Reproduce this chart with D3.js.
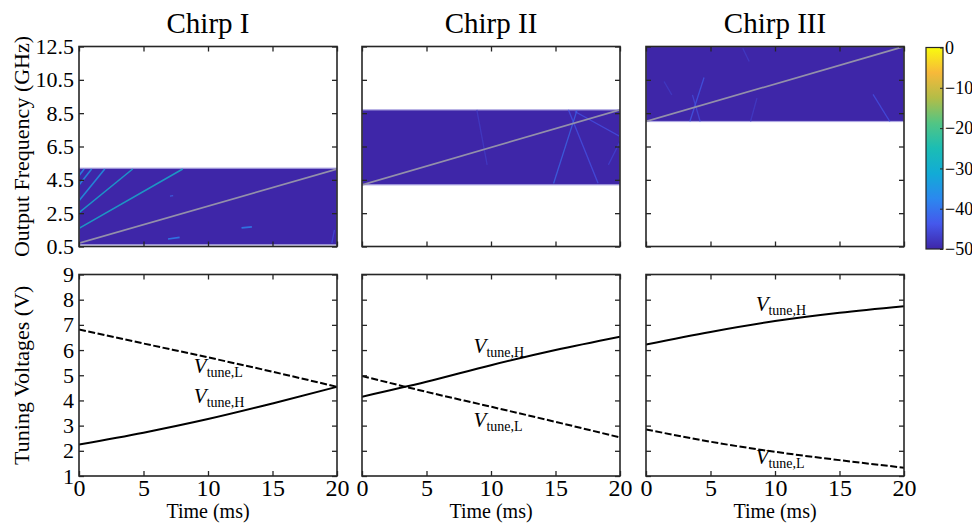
<!DOCTYPE html>
<html><head><meta charset="utf-8">
<script src="https://cdn.jsdelivr.net/npm/d3@7"></script>
<style>
body{margin:0;background:#fff}
svg{display:block}
text{font-family:"Liberation Serif","Times New Roman",serif;fill:#000}
</style>
</head><body>
<svg id="chart" width="972" height="523"></svg>
<script>
// ---------------- data ----------------
const chirpNames = ["Chirp I", "Chirp II", "Chirp III"];
const timeTicks = [0, 5, 10, 15, 20];
const freqTicks = [0.5, 2.5, 4.5, 6.5, 8.5, 10.5, 12.5];
const voltTicks = [1, 2, 3, 4, 5, 6, 7, 8, 9];
const cbarTicks = [0, -10, -20, -30, -40, -50];
// spectrogram coverage per chirp (GHz)
const bandLow = [0.6, 4.2, 8.0];
const bandHigh = [5.2, 8.7, 12.5];
// main chirp line start / end frequency (GHz)
const chirpStart = [0.7, 4.2, 8.0];
const chirpEnd = [5.15, 8.7, 12.5];
// harmonics and spurs: [chirp index, t0 (ms), f0 (GHz), t1, f1, level (dB)]
const spurs = [
  [0, 0, 1.59, 8.04, 5.15, -29],
  [0, 0, 2.53, 4.16, 5.15, -30],
  [0, 0, 3.25, 2.0, 5.15, -34],
  [0, 0, 4.19, 0.98, 5.15, -35],
  [0, 0, 4.75, 0.4, 5.15, -36],
  [0, 6.9, 0.95, 7.8, 1.05, -38],
  [0, 12.6, 1.62, 13.4, 1.68, -38],
  [0, 7.05, 3.52, 7.3, 3.55, -41],
  [0, 19.6, 0.7, 19.8, 1.5, -45],
  [1, 14.85, 4.28, 16.67, 8.68, -41],
  [1, 16.0, 8.7, 18.3, 4.3, -44],
  [1, 16.5, 8.6, 20, 7.1, -44],
  [1, 8.9, 8.7, 9.7, 5.4, -47],
  [1, 20, 6.8, 19.1, 5.4, -46],
  [2, 3.4, 8.0, 4.5, 10.64, -43],
  [2, 3.6, 9.6, 4.2, 8.0, -45],
  [2, 7.5, 12.4, 8.0, 11.6, -47],
  [2, 8.1, 8.0, 8.6, 9.4, -47],
  [2, 17.6, 9.63, 18.9, 8.0, -44],
  [2, 1.4, 10.4, 2.0, 9.6, -47]
];
// tuning voltages (V) sampled at timeSamples (ms)
const timeSamples = [0, 5, 10, 15, 20];
const vHigh = [
  [2.25, 2.72, 3.26, 3.88, 4.54],
  [4.15, 4.74, 5.40, 6.00, 6.53],
  [6.22, 6.72, 7.15, 7.48, 7.74]
];
const vLow = [
  [6.82, 6.26, 5.71, 5.14, 4.54],
  [4.97, 4.34, 3.75, 3.15, 2.53],
  [2.85, 2.36, 1.96, 1.63, 1.33]
];
// label anchor points in data units [t, V]
const labelH = [[8.9, 3.88], [8.65, 5.87], [8.5, 7.56]];
const labelL = [[8.9, 5.08], [8.65, 2.95], [8.5, 1.48]];
// parula colour stops
const parulaStops = ["#3e26a8", "#4558ec", "#2b88ef", "#12abd6", "#1bbdb4", "#52c584", "#b3bd47", "#f7b93a", "#f9fb0e"];

// ---------------- layout ----------------
const svg = d3.select("#chart");
const panelLeft = [79, 362, 646];
const panelW = 258;
const topY0 = 46.5, topY1 = 246.5;
const botY0 = 274.5, botY1 = 476;
const font = '"Liberation Serif","Times New Roman",serif';
const axisColor = "#262626";

const yF = d3.scaleLinear().domain([0.5, 12.5]).range([topY1, topY0]);
const yV = d3.scaleLinear().domain([1, 9]).range([botY1, botY0]);
const cScale = d3.scaleLinear()
  .domain(d3.range(parulaStops.length).map(i => -50 + 50 * i / (parulaStops.length - 1)))
  .range(parulaStops);

const defs = svg.append("defs");
chirpNames.forEach((_, i) => {
  defs.append("clipPath").attr("id", "clipTop" + i)
    .append("rect").attr("x", panelLeft[i]).attr("y", topY0).attr("width", panelW).attr("height", topY1 - topY0);
  defs.append("clipPath").attr("id", "clipBot" + i)
    .append("rect").attr("x", panelLeft[i]).attr("y", botY0).attr("width", panelW).attr("height", botY1 - botY0);
});

function frameAxes(g, x, y, yTicks, xTickVals, showY, showX, yFmt) {
  const x0 = x.range()[0], x1 = x.range()[1];
  const y0 = y.range()[1], y1 = y.range()[0];
  const ax = (sel) => { sel.select(".domain").remove(); sel.selectAll("line").attr("stroke", axisColor).attr("stroke-width", 1.3); };
  g.append("g").attr("transform", `translate(${x0},0)`)
    .call(d3.axisLeft(y).tickValues(yTicks).tickSizeInner(-5).tickSizeOuter(0).tickPadding(5)
      .tickFormat(showY ? yFmt : () => ""))
    .call(ax)
    .selectAll("text").attr("font-family", font).attr("font-size", 22).attr("fill", "#000");
  g.append("g").attr("transform", `translate(${x1},0)`)
    .call(d3.axisRight(y).tickValues(yTicks).tickSizeInner(-5).tickSizeOuter(0).tickFormat(() => ""))
    .call(ax);
  g.append("g").attr("transform", `translate(0,${y0})`)
    .call(d3.axisTop(x).tickValues(xTickVals).tickSizeInner(-5).tickSizeOuter(0).tickFormat(() => ""))
    .call(ax);
  g.append("g").attr("transform", `translate(0,${y1})`)
    .call(d3.axisBottom(x).tickValues(xTickVals).tickSizeInner(-5).tickSizeOuter(0).tickPadding(3)
      .tickFormat(showX ? d3.format("d") : () => ""))
    .call(ax)
    .selectAll("text").attr("font-family", font).attr("font-size", 24).attr("fill", "#000");
  g.append("rect").attr("x", x0).attr("y", y0).attr("width", x1 - x0).attr("height", y1 - y0)
    .attr("fill", "none").attr("stroke", axisColor).attr("stroke-width", 1.6);
}

chirpNames.forEach((name, i) => {
  const x = d3.scaleLinear().domain([0, 20]).range([panelLeft[i], panelLeft[i] + panelW]);

  // ---- top: spectrogram ----
  const gt = svg.append("g");
  const plot = gt.append("g").attr("clip-path", `url(#clipTop${i})`);
  plot.append("rect")
    .attr("x", x(0)).attr("width", x(20) - x(0))
    .attr("y", yF(bandHigh[i])).attr("height", yF(bandLow[i]) - yF(bandHigh[i]))
    .attr("fill", cScale(-50))
    .attr("stroke", "#aea7e2").attr("stroke-width", 1.2);
  plot.selectAll("line.spur").data(spurs.filter(s => s[0] === i)).join("line")
    .attr("class", "spur")
    .attr("x1", d => x(d[1])).attr("y1", d => yF(d[2]))
    .attr("x2", d => x(d[3])).attr("y2", d => yF(d[4]))
    .attr("stroke", d => cScale(d[5]))
    .attr("stroke-opacity", d => d[5] < -40 ? 0.7 : 0.8)
    .attr("stroke-width", d => d[5] < -40 ? 1.3 : 1.6);
  plot.append("line")
    .attr("x1", x(0)).attr("y1", yF(chirpStart[i]))
    .attr("x2", x(20)).attr("y2", yF(chirpEnd[i]))
    .attr("stroke", "#9390aa").attr("stroke-width", 1.7);
  frameAxes(gt, x, yF, freqTicks, timeTicks, i === 0, false, d3.format(".1f"));

  gt.append("text").attr("x", x(10)).attr("y", 33)
    .attr("text-anchor", "middle").attr("font-size", 29).text(name);

  // ---- bottom: tuning voltages ----
  const gb = svg.append("g");
  const lp = gb.append("g").attr("clip-path", `url(#clipBot${i})`);
  const line = d3.line().x(d => x(d[0])).y(d => yV(d[1])).curve(d3.curveMonotoneX);
  lp.append("path").datum(timeSamples.map((t, k) => [t, vHigh[i][k]]))
    .attr("d", line).attr("fill", "none").attr("stroke", "#000").attr("stroke-width", 2);
  lp.append("path").datum(timeSamples.map((t, k) => [t, vLow[i][k]]))
    .attr("d", line).attr("fill", "none").attr("stroke", "#000").attr("stroke-width", 2)
    .attr("stroke-dasharray", "7,2.5");
  frameAxes(gb, x, yV, voltTicks, timeTicks, i === 0, true, d3.format("d"));

  [[labelH[i], "tune,H"], [labelL[i], "tune,L"]].forEach(([p, sub]) => {
    const t = gb.append("text").attr("x", x(p[0])).attr("y", yV(p[1])).attr("font-size", 21);
    t.append("tspan").attr("font-style", "italic").text("V");
    t.append("tspan").attr("font-size", 14).attr("dy", 4).text(sub);
  });

  gb.append("text").attr("x", x(10)).attr("y", 518)
    .attr("text-anchor", "middle").attr("font-size", 20).text("Time (ms)");
});

// y axis titles
svg.append("text").attr("transform", `translate(29,${(topY0 + topY1) / 2}) rotate(-90)`)
  .attr("text-anchor", "middle").attr("font-size", 22).text("Output Frequency (GHz)");
svg.append("text").attr("transform", `translate(29,${(botY0 + botY1) / 2}) rotate(-90)`)
  .attr("text-anchor", "middle").attr("font-size", 22).text("Tuning Voltages (V)");

// ---- colorbar ----
const cbX = 926, cbW = 17;
const cbY = d3.scaleLinear().domain([-50, 0]).range([249, 47.5]);
const grad = defs.append("linearGradient").attr("id", "parula")
  .attr("x1", 0).attr("y1", 1).attr("x2", 0).attr("y2", 0);
parulaStops.forEach((c, k) => grad.append("stop")
  .attr("offset", k / (parulaStops.length - 1)).attr("stop-color", c));
svg.append("rect").attr("x", cbX).attr("y", cbY(0)).attr("width", cbW)
  .attr("height", cbY(-50) - cbY(0)).attr("fill", "url(#parula)")
  .attr("stroke", axisColor).attr("stroke-width", 1.2);
const cbAxis = svg.append("g").attr("transform", `translate(${cbX + cbW},0)`)
  .call(d3.axisRight(cbY).tickValues(cbarTicks).tickSizeInner(-3).tickSizeOuter(0).tickPadding(2).tickFormat(d3.format("d")));
cbAxis.select(".domain").remove();
cbAxis.selectAll("line").attr("stroke", axisColor);
cbAxis.selectAll("text").attr("font-family", font).attr("font-size", 18).attr("fill", "#000");
</script>
</body></html>
